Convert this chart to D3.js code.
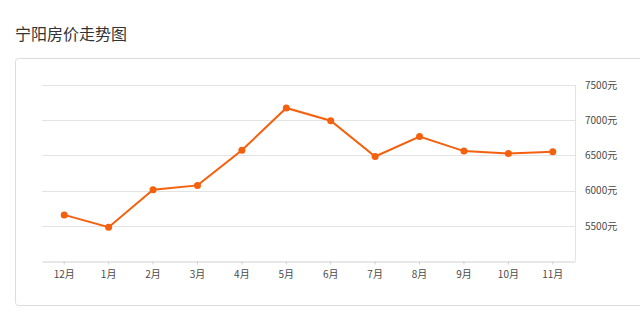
<!DOCTYPE html>
<html>
<head>
<meta charset="utf-8">
<script src="https://cdn.jsdelivr.net/npm/d3@7"></script>
<style>
    body { margin: 0; background: #fff; font-family: "Noto Sans CJK SC", "Noto Sans", sans-serif; }
    #chart { position: relative; width: 640px; height: 325px; overflow: hidden; }
</style>
</head>
<body>
<div id="chart"></div>
<script>
// Chart data
var title = '宁阳房价走势图';
var months = ['12月', '1月', '2月', '3月', '4月', '5月', '6月', '7月', '8月', '9月', '10月', '11月'];
var prices = [5655, 5480, 6012, 6074, 6574, 7174, 6992, 6484, 6767, 6561, 6527, 6552];
var yTicks = [5500, 6000, 6500, 7000, 7500];
var yDomain = [5000, 7500];

var width = 640, height = 325;

// Plot area
var plot = { left: 42, right: 575, top: 85, bottom: 261 };

var svg = d3.select('#chart')
    .append('svg')
    .attr('width', width)
    .attr('height', height);

// Title
svg.append('text')
    .attr('x', 15)
    .attr('y', 40)
    .attr('fill', '#333')
    .style('font-size', '16px')
    .text(title);

// Card box around the chart
svg.append('rect')
    .attr('x', 15.5)
    .attr('y', 58.5)
    .attr('width', 640)
    .attr('height', 247)
    .attr('rx', 3)
    .attr('fill', '#fff')
    .attr('stroke', '#dcdcdc');

var x = d3.scaleBand()
    .domain(months)
    .range([plot.left, plot.right]);

var y = d3.scaleLinear()
    .domain(yDomain)
    .range([plot.bottom, plot.top]);

// Horizontal grid lines
svg.append('g')
    .selectAll('line')
    .data(yTicks)
    .enter().append('line')
    .attr('x1', plot.left)
    .attr('x2', plot.right)
    .attr('y1', function(d) { return Math.round(y(d)) + 0.5; })
    .attr('y2', function(d) { return Math.round(y(d)) + 0.5; })
    .attr('stroke', '#e3e3e3');

// Right border of the plot
svg.append('line')
    .attr('x1', plot.right + 0.5)
    .attr('x2', plot.right + 0.5)
    .attr('y1', plot.top)
    .attr('y2', plot.bottom)
    .attr('stroke', '#e3e3e3');

// Y axis on the right
var yAxis = svg.append('g')
    .attr('transform', 'translate(' + (plot.right + 8) + ',0)')
    .call(d3.axisRight(y).tickValues(yTicks).tickSize(0).tickPadding(2)
        .tickFormat(function(d) { return d + '元'; }));
yAxis.select('.domain').remove();
yAxis.selectAll('text')
    .attr('fill', '#4a4a4a')
    .style('font-size', '10px')
    .style('font-family', '"Noto Sans CJK SC", sans-serif');

// X axis at the bottom
var xAxis = svg.append('g')
    .attr('transform', 'translate(0,' + (plot.bottom + 0.5) + ')')
    .call(d3.axisBottom(x).tickSize(3).tickSizeOuter(0).tickPadding(6));
xAxis.select('.domain').attr('stroke', '#d0d0d0');
xAxis.selectAll('.tick line').attr('stroke', '#d0d0d0');
xAxis.selectAll('text')
    .attr('fill', '#4a4a4a')
    .style('font-size', '10px')
    .style('font-family', '"Noto Sans CJK SC", sans-serif');

// Price line
var line = d3.line()
    .x(function(d, i) { return x(months[i]) + x.bandwidth() / 2; })
    .y(function(d) { return y(d); });

svg.append('path')
    .datum(prices)
    .attr('d', line)
    .attr('fill', 'none')
    .attr('stroke', '#f5600f')
    .attr('stroke-width', 2);

svg.append('g')
    .selectAll('circle')
    .data(prices)
    .enter().append('circle')
    .attr('cx', function(d, i) { return x(months[i]) + x.bandwidth() / 2; })
    .attr('cy', function(d) { return y(d); })
    .attr('r', 3.5)
    .attr('fill', '#f5600f');
</script>
</body>
</html>
